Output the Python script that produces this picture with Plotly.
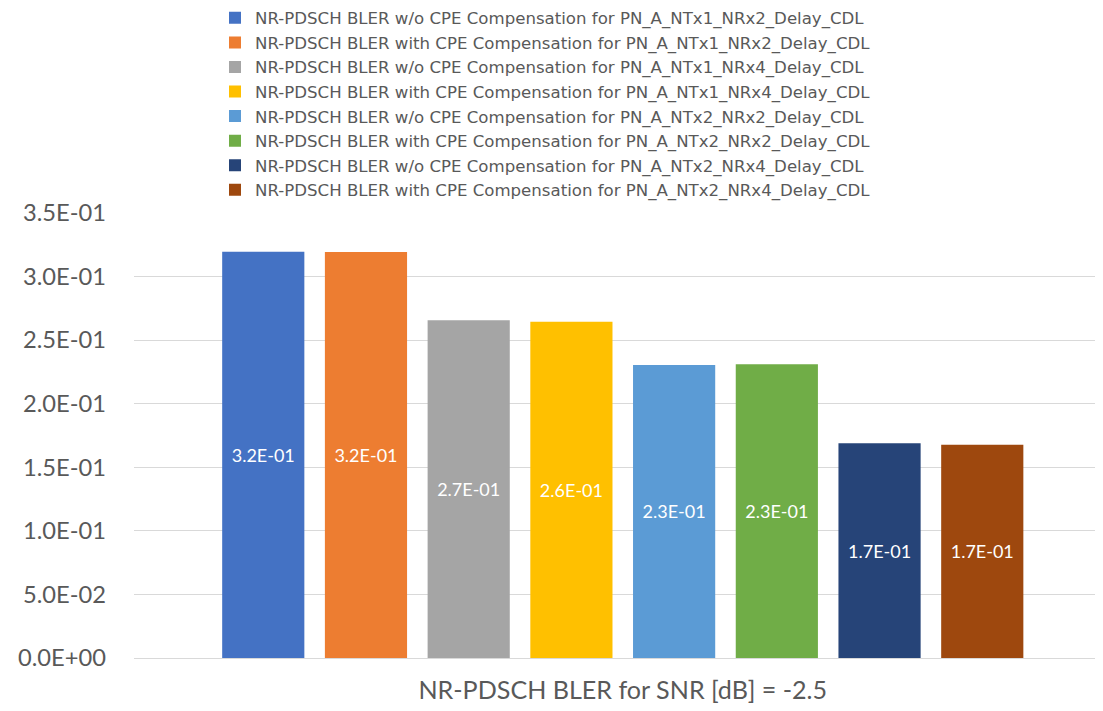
import plotly.graph_objects as go

category = "NR-PDSCH BLER for SNR [dB] = -2.5"
series_names = [
    "NR-PDSCH BLER w/o CPE Compensation for PN_A_NTx1_NRx2_Delay_CDL",
    "NR-PDSCH BLER with CPE Compensation for PN_A_NTx1_NRx2_Delay_CDL",
    "NR-PDSCH BLER w/o CPE Compensation for PN_A_NTx1_NRx4_Delay_CDL",
    "NR-PDSCH BLER with CPE Compensation for PN_A_NTx1_NRx4_Delay_CDL",
    "NR-PDSCH BLER w/o CPE Compensation for PN_A_NTx2_NRx2_Delay_CDL",
    "NR-PDSCH BLER with CPE Compensation for PN_A_NTx2_NRx2_Delay_CDL",
    "NR-PDSCH BLER w/o CPE Compensation for PN_A_NTx2_NRx4_Delay_CDL",
    "NR-PDSCH BLER with CPE Compensation for PN_A_NTx2_NRx4_Delay_CDL",
]
series_values = [0.3195, 0.3194, 0.2656, 0.2645, 0.2305, 0.2310, 0.1689, 0.1678]
colors = ["#4472C4", "#ED7D31", "#A5A5A5", "#FFC000",
          "#5B9BD5", "#70AD47", "#264478", "#9E480E"]
tick_vals = [0.0, 0.05, 0.10, 0.15, 0.20, 0.25, 0.30, 0.35]
tick_text = ["0.0E+00", "5.0E-02", "1.0E-01", "1.5E-01",
             "2.0E-01", "2.5E-01", "3.0E-01", "3.5E-01"]

FONT = "Lato"
LEGEND_FONT = "DejaVu Sans"
GREY = "#595959"

fig = go.Figure()
for name, val, col in zip(series_names, series_values, colors):
    fig.add_trace(go.Bar(
        x=[category], y=[val], name=name,
        marker=dict(color=col, line=dict(width=0)),
        text=["%.1E" % val], textposition="inside",
        insidetextanchor="middle",
        textfont=dict(family=FONT, size=18, color="white"),
        hoverinfo="name+y",
    ))

fig.update_layout(
    width=1103, height=711,
    barmode="group", bargap=0.152, bargroupgap=0.2,
    plot_bgcolor="white", paper_bgcolor="white",
    margin=dict(l=125.5, r=8, t=205, b=61, autoexpand=False),
    font=dict(family=FONT, color=GREY),
    showlegend=True,
    legend=dict(
        xref="container", yref="paper",
        x=207/1103, xanchor="left", y=1.4775, yanchor="top",
        font=dict(family=LEGEND_FONT, size=16.6, color=GREY),
        traceorder="normal", bgcolor="rgba(0,0,0,0)",
        itemclick=False,
    ),
    uniformtext=dict(mode=False),
)
fig.update_xaxes(
    range=[-0.5044, 0.4956], showgrid=False, showline=False,
    ticks="", ticklabelstandoff=15,
    tickfont=dict(family=FONT, size=25.1, color=GREY),
)
fig.update_yaxes(
    range=[0, 0.35], tickvals=tick_vals, ticktext=tick_text,
    showgrid=True, gridcolor="#D9D9D9", gridwidth=1,
    zeroline=True, zerolinecolor="#D9D9D9", zerolinewidth=1,
    showline=False, ticks="", ticklen=0, ticklabelstandoff=27,
    tickfont=dict(family=FONT, size=23.7, color=GREY),
)

fig.write_html("out.html")
